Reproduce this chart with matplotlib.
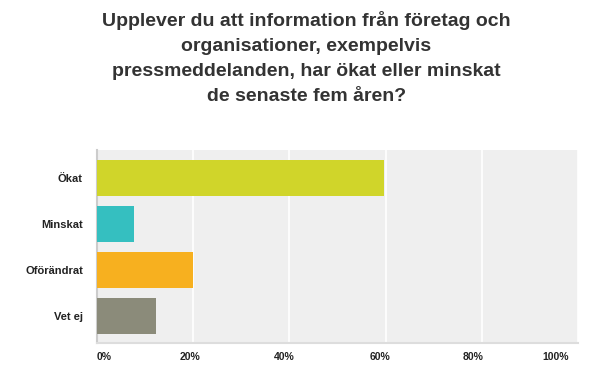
import matplotlib
matplotlib.use('Agg')
import matplotlib.pyplot as plt
from matplotlib.ticker import FixedLocator
from matplotlib.transforms import offset_copy

categories = ['Ökat', 'Minskat', 'Oförändrat', 'Vet ej']
values = [59.7, 7.8, 20.0, 12.2]
colors = ['#d0d52a', '#35bfc0', '#f7b01f', '#8b8b7a']
xticks = [0, 20, 40, 60, 80, 100]
xticklabels = ['0%', '20%', '40%', '60%', '80%', '100%']
title = ('Upplever du att information från företag och\n'
         'organisationer, exempelvis\n'
         'pressmeddelanden, har ökat eller minskat\n'
         'de senaste fem åren?')

plt.rcParams['font.family'] = ['Liberation Sans', 'DejaVu Sans']

fig = plt.figure(figsize=(6.13, 3.86), dpi=100)
ax = fig.add_axes([0.158, 0.111, 0.785, 0.5])

ypos = list(range(len(categories)))
ax.barh(ypos, values, height=0.78, color=colors, zorder=3)

ax.set_facecolor('#efefef')
ax.set_xlim(0, 100)
ax.set_ylim(len(categories) - 0.4, -0.6)
ax.xaxis.set_major_locator(FixedLocator(xticks))
ax.set_xticklabels([])
ax.grid(axis='x', color='white', linewidth=1.2, zorder=1)

# x labels sit a little left of their gridlines in the original
shifts = [0, -3, -5, -6, -9, -9]
aligns = ['left', 'center', 'center', 'center', 'center', 'right']
for xv, txt, ha, dx in zip(xticks, xticklabels, aligns, shifts):
    tr = offset_copy(ax.get_xaxis_transform(), fig=fig, x=dx, y=-14, units='dots')
    ax.text(xv, 0, txt, transform=tr, ha=ha, va='center', fontsize=7.5,
            fontweight='bold', color='#222222')

ax.set_yticks(ypos)
ax.set_yticklabels(categories, fontsize=8, fontweight='bold', color='#222222')
ax.tick_params(axis='both', length=0)
ax.tick_params(axis='y', pad=10)

for s in ['top', 'right']:
    ax.spines[s].set_visible(False)
ax.spines['left'].set_color('#cccccc')
ax.spines['left'].set_linewidth(1.5)
ax.spines['bottom'].set_color('#dddddd')
ax.spines['bottom'].set_linewidth(1.5)

fig.text(0.5, 0.972, title, ha='center', va='top', fontsize=14,
         fontweight='bold', color='#333333', linespacing=1.62)

fig.savefig('out.png', dpi=100)
